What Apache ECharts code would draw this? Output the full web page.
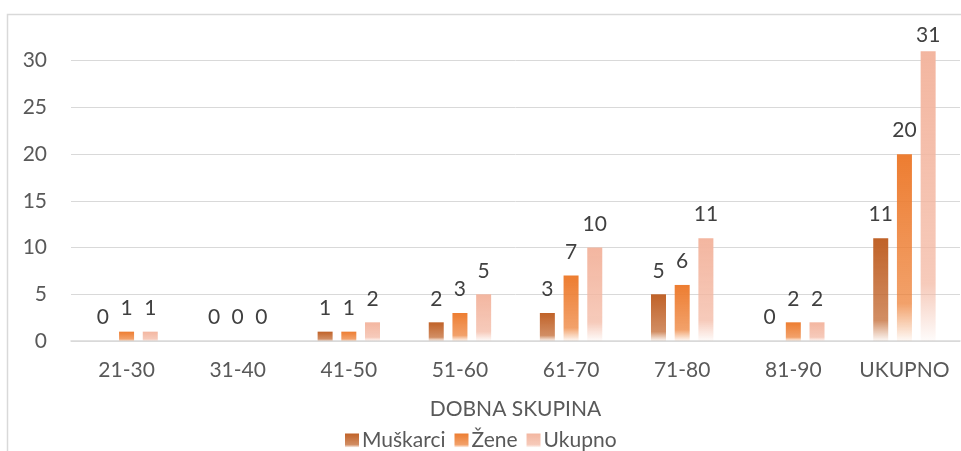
<!DOCTYPE html>
<html>
<head>
<meta charset="utf-8">
<script src="https://cdn.jsdelivr.net/npm/echarts@6/dist/echarts.min.js"></script>
<style>
  html, body { margin: 0; padding: 0; background: #fff; }
  #app { width: 961px; height: 451px; }
</style>
</head>
<body>
<div id="app"></div>
<script>
// 数据
const categories = ['21-30', '31-40', '41-50', '51-60', '61-70', '71-80', '81-90', 'UKUPNO'];
const muskarci = [0, 0, 1, 2, 3, 5, 0, 11];
const zene = [1, 0, 1, 3, 7, 6, 2, 20];
const ukupno = [1, 0, 2, 5, 10, 11, 2, 31];
const seriesNames = ['Muškarci', 'Žene', 'Ukupno'];

// 渐变色：顶部实色，底部淡出到白色
function fade(r, g, b) {
    return new echarts.graphic.LinearGradient(0, 0, 0, 1, [
        { offset: 0, color: 'rgba(' + r + ',' + g + ',' + b + ',1)' },
        { offset: 0.8, color: 'rgba(' + r + ',' + g + ',' + b + ',0.72)' },
        { offset: 1, color: 'rgba(' + r + ',' + g + ',' + b + ',0.04)' }
    ]);
}

const font = 'Lato, "Noto Sans", sans-serif';
const fs = 21;

function makeSeries(name, data, color) {
    return {
        name: name,
        type: 'bar',
        // 靠近顶部的标签往下收一点
        data: data.map(function(v) {
            return v > 29 ? { value: v, label: { distance: 6 } } : v;
        }),
        barWidth: 15,
        barGap: '58%',
        itemStyle: { color: color },
        label: {
            show: true,
            position: 'top',
            distance: 13,
            color: '#404040',
            fontSize: fs,
            fontFamily: font
        }
    };
}

let myChart = echarts.init(document.getElementById('app'));
myChart.setOption({
    animation: false,
    grid: { left: 71, right: 1, top: 14, bottom: 110 },
    graphic: [{
        type: 'rect',
        shape: { x: 7.5, y: 14.5, width: 1000, height: 500 },
        style: { fill: 'none', stroke: '#d9d9d9', lineWidth: 1.5 },
        silent: true
    }],
    legend: {
        data: seriesNames,
        left: 340,
        top: 425,
        icon: 'rect',
        itemWidth: 14,
        itemHeight: 14,
        itemGap: 9,
        textStyle: { color: '#595959', fontSize: fs, fontFamily: font, padding: [0, 0, 0, -2] }
    },
    xAxis: {
        type: 'category',
        data: categories,
        name: 'DOBNA SKUPINA',
        nameLocation: 'middle',
        nameGap: 58,
        nameTextStyle: { color: '#595959', fontSize: fs, fontFamily: font },
        axisLine: { lineStyle: { color: '#d9d9d9', width: 1.5 } },
        axisTick: { show: false },
        axisLabel: {
            color: '#595959', fontSize: fs, fontFamily: font, margin: 19,
            interval: 0, hideOverlap: false
        }
    },
    yAxis: {
        type: 'value',
        min: 0,
        max: 35,
        interval: 5,
        axisLine: { show: false },
        axisTick: { show: false },
        axisLabel: {
            color: '#595959', fontSize: fs, fontFamily: font, margin: 24,
            formatter: function(v) { return v === 35 ? '' : v; }
        },
        splitLine: { lineStyle: { color: '#d9d9d9', width: 1 } }
    },
    series: [
        makeSeries(seriesNames[0], muskarci, fade(192, 98, 40)),
        makeSeries(seriesNames[1], zene, fade(237, 125, 49)),
        makeSeries(seriesNames[2], ukupno, fade(243, 182, 160))
    ]
});
</script>
</body>
</html>
